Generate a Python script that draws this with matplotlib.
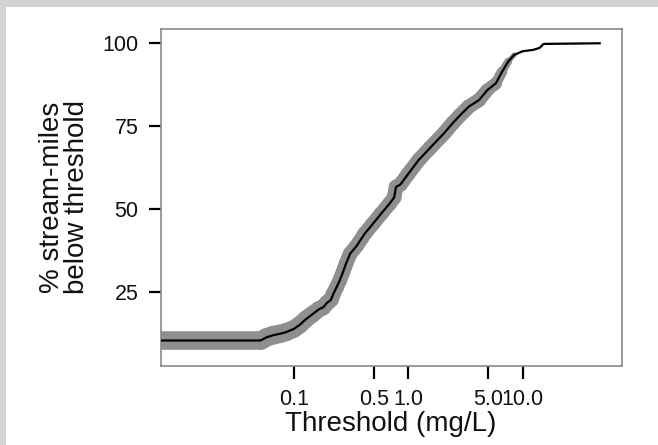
import matplotlib
matplotlib.use("Agg")
import matplotlib.pyplot as plt
from matplotlib.patches import Rectangle
from matplotlib.collections import LineCollection
import numpy as np

# Data
threshold = [0.0068, 0.051, 0.058, 0.066, 0.075, 0.085, 0.1, 0.113, 0.128, 0.145,
             0.165, 0.18, 0.195, 0.21, 0.221, 0.236, 0.251, 0.268, 0.285, 0.31,
             0.351, 0.415, 0.49, 0.58, 0.686, 0.75, 0.78, 0.85, 1.0, 1.23,
             1.58, 2.04, 2.42, 2.85, 3.37, 4.15, 4.9, 5.81, 6.58, 7.46,
             8.4, 9.99, 12.3, 14.0, 15.2, 47.0]
pct_below = [10.4, 10.4, 11.4, 12.0, 12.4, 12.9, 13.9, 15.2, 16.9, 18.3,
             19.8, 20.4, 21.8, 22.6, 24.5, 26.5, 28.5, 31.0, 33.6, 36.6,
             38.8, 42.6, 45.6, 48.7, 51.7, 53.5, 56.7, 57.4, 60.7, 64.8,
             68.8, 72.8, 75.8, 78.4, 80.9, 82.9, 85.9, 87.9, 91.4, 94.5,
             96.5, 97.6, 98.0, 98.6, 99.8, 100.0]
# half-width of the uncertainty band (in % units)
band_half = [2.8, 2.8, 2.8, 2.8, 2.8, 2.7, 2.7, 2.6, 2.6, 2.5,
             2.5, 2.4, 2.4, 2.3, 2.3, 2.2, 2.2, 2.2, 2.2, 2.2,
             2.2, 2.2, 2.2, 2.2, 2.2, 2.2, 2.2, 2.2, 2.2, 2.2,
             2.2, 2.2, 2.2, 2.2, 2.2, 2.1, 2.0, 1.8, 1.4, 1.0,
             0.5, 0.0, 0.0, 0.0, 0.0, 0.0]

xticks = [0.1, 0.5, 1.0, 5.0, 10.0]
xtick_labels = ["0.1", "0.5", "1.0", "5.0", "10.0"]
yticks = [25, 50, 75, 100]

plt.rcParams['font.family'] = ['Liberation Sans', 'DejaVu Sans']

fig = plt.figure(figsize=(6.58, 4.45), dpi=100)
fig.patch.set_facecolor('white')
fig.add_artist(Rectangle((0, 1 - 7/445), 1, 7/445, transform=fig.transFigure,
                         facecolor='#d3d3d3', edgecolor='none', zorder=-5))
fig.add_artist(Rectangle((0, 0), 6/658, 1, transform=fig.transFigure,
                         facecolor='#d3d3d3', edgecolor='none', zorder=-5))

ax = fig.add_axes([160.7/658, 1 - 365.7/445, (622 - 160.7)/658, (365.7 - 29)/445])
ax.set_facecolor('white')

ax.set_xscale('log')
ax.set_xlim(0.00684, 73.6)
ax.set_ylim(2.8, 104.3)

x = np.array(threshold)
y = np.array(pct_below)
h = np.array(band_half)

# band drawn with constant perpendicular width: convert % units to points
bbox = ax.get_position()
px_per_unit = bbox.height * fig.get_figheight() * fig.dpi / (104.3 - 2.8)
pts = np.column_stack([x, y])
segs = [pts[i:i + 2] for i in range(len(pts) - 1)]
seg_w = []
seg_keep = []
for i in range(len(pts) - 1):
    w = 0.5 * (h[i] + h[i + 1]) * 2 * px_per_unit * 72 / fig.dpi
    if w > 0.05:
        seg_keep.append(segs[i])
        seg_w.append(w)
band = LineCollection(seg_keep, linewidths=seg_w, colors='#8f8f8f',
                      capstyle='round', joinstyle='round', zorder=2)
ax.add_collection(band)
ax.plot(x, y, color='black', linewidth=1.6, zorder=3)

ax.set_xticks(xticks)
ax.set_xticklabels(xtick_labels)
ax.xaxis.set_minor_locator(matplotlib.ticker.NullLocator())
ax.set_yticks(yticks)
ax.set_yticklabels([str(v) for v in yticks])

for s in ax.spines.values():
    s.set_color('#8a8a8a')
    s.set_linewidth(1.2)

ax.tick_params(axis='both', which='major', direction='out', length=9,
               width=1.6, color='black', labelsize=15.5, labelcolor='#111111')
ax.tick_params(axis='x', pad=8)
ax.tick_params(axis='y', pad=7)

fig.text(391/658, 1 - 424/445, "Threshold (mg/L)", ha='center', va='center',
         fontsize=20, color='#111111')
fig.text(65/658, 1 - 197/445, "% stream-miles\nbelow threshold", ha='center',
         va='center', rotation=90, fontsize=20, linespacing=0.95, color='#111111')

fig.savefig("out.png", dpi=100, facecolor=fig.get_facecolor())
